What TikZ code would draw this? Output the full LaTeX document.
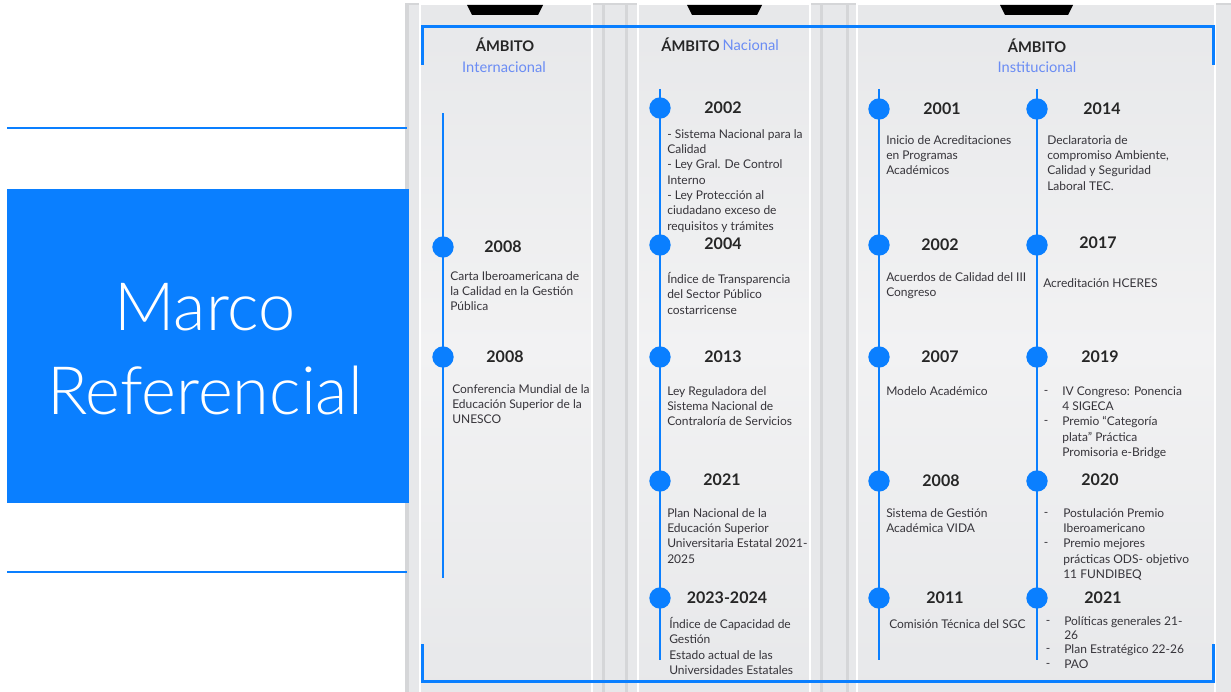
\documentclass[tikz,border=0pt]{standalone}
\usepackage{fontspec}
\setmainfont{Lato}
\newfontfamily\lightfont{Lato Light}

\definecolor{mainblue}{HTML}{0A7FFF}
\definecolor{softblue}{HTML}{6A8CF4}
\definecolor{txtgray}{HTML}{36343A}
\definecolor{bggray}{HTML}{E7E8EA}
\definecolor{gapgray}{HTML}{D5D6D8}
\definecolor{panelgray}{HTML}{F2F2F3}

\tikzset{
    tline/.style={mainblue, line width=1.5pt},
    dot/.style={circle, fill=mainblue, minimum size=16pt, inner sep=0pt},
    year/.style={font=\bfseries\fontsize{12}{14}\selectfont, text=black!85, inner sep=0pt},
    desc/.style={font=\fontsize{9}{11.5}\selectfont, text=txtgray, align=left, anchor=north west, inner sep=0pt},
    bullet/.style={font=\fontsize{9}{11.5}\selectfont, text=txtgray, inner sep=0pt, anchor=base},
    hdr/.style={font=\bfseries\fontsize{11}{13}\selectfont, text=black!85, inner sep=0pt},
    hdrblue/.style={font=\fontsize{11}{13}\selectfont, text=softblue, inner sep=0pt},
    frame/.style={mainblue, line width=2.25pt},
    panel/.style={top color=bggray, bottom color=bggray, middle color=panelgray, draw=white, line width=1.2pt}
}

\begin{document}
\begin{tikzpicture}[x=0.75pt, y=-0.75pt]
    \useasboundingbox (0,0) rectangle (1231,692);

    % Background
    \fill[bggray] (405,4) rectangle (1231,692);
    \fill[gapgray] (405,4) rectangle (409,692);
    \fill[gapgray] (602,4) rectangle (605,692);
    \fill[gapgray] (625,4) rectangle (628,692);
    \fill[gapgray] (820,4) rectangle (823,692);
    \fill[gapgray] (846,4) rectangle (849,692);
    \draw[gapgray, line width=0.8pt] (405,4) -- (1231,4);

    % Panels
    \shade[panel] (420,4) rectangle (592,694);
    \shade[panel] (638,4) rectangle (810,694);
    \shade[panel] (857,4) rectangle (1215,694);

    % Tabs
    \fill[black] (467,5) -- (543,5) -- (538,15) -- (472,15) -- cycle;
    \fill[black] (687,5) -- (762,5) -- (757,15) -- (692,15) -- cycle;
    \fill[black] (1000,5) -- (1073,5) -- (1068,15) -- (1005,15) -- cycle;

    % Title
    \draw[mainblue, line width=0.8pt] (7,128) -- (407,128);
    \draw[mainblue, line width=0.8pt] (7,572) -- (407,572);
    \fill[mainblue] (7,189) rectangle (409,503);
    \node[font=\lightfont\fontsize{50}{63}\selectfont, text=white, align=center, inner sep=0pt] (title) at (205,349) {Marco\\Referencial};

    % Frame
    \draw[frame] (422,65) -- (422,27) -- (1213,27) -- (1213,65);
    \draw[frame] (422,644) -- (422,681) -- (1213,681) -- (1213,644);

    % Headers
    \node[hdr] (hint) at (505,45) {ÁMBITO};
    \node[hdrblue] (hintb) at (504,67) {Internacional};
    \node[hdr, anchor=east] (hnac) at (720,45) {ÁMBITO};
    \node[hdrblue, anchor=west] (hnacb) at (hnac.east) {\,Nacional};
    \node[hdr] (hins) at (1037,46) {ÁMBITO};
    \node[hdrblue] (hinsb) at (1037,67) {Institucional};

    % Internacional
    \coordinate (inttop) at (443,113);
    \coordinate (intbot) at (443,578);
    \draw[tline] (inttop) -- (intbot);
    \node[dot] (i1) at (443,247) {};
    \node[year] (i1y) at (503,247) {2008};
    \node[desc] (i1d) at (450,271) {Carta Iberoamericana de\\la Calidad en la Gestión\\Pública};
    \node[dot] (i2) at (443,357) {};
    \node[year] (i2y) at (505,357) {2008};
    \node[desc] (i2d) at (452,384) {Conferencia Mundial de la\\Educación Superior de la\\UNESCO};

    % Nacional
    \coordinate (nactop) at (660,89);
    \coordinate (nacbot) at (660,660);
    \draw[tline] (nactop) -- (nacbot);
    \node[dot] (n1) at (660,108) {};
    \node[year] (n1y) at (723,108) {2002};
    \node[desc] (n1d) at (667,129) {- Sistema Nacional para la\\Calidad\\- Ley Gral. De Control\\Interno\\- Ley Protección al\\ciudadano exceso de\\requisitos y trámites};
    \node[dot] (n2) at (660,245) {};
    \node[year] (n2y) at (723,244) {2004};
    \node[desc] (n2d) at (667,272) {Índice de Transparencia\\del Sector Público\\costarricense};
    \node[dot] (n3) at (660,357) {};
    \node[year] (n3y) at (723,357) {2013};
    \node[desc] (n3d) at (667,386) {Ley Reguladora del\\Sistema Nacional de\\Contraloría de Servicios};
    \node[dot] (n4) at (660,481) {};
    \node[year] (n4y) at (722,480) {2021};
    \node[desc] (n4d) at (667,508) {Plan Nacional de la\\Educación Superior\\Universitaria Estatal 2021-\\2025};
    \node[dot] (n5) at (660,598) {};
    \node[year] (n5y) at (727,598) {2023-2024};
    \node[desc] (n5d) at (669,617) {Índice de Capacidad de\\Gestión\\Estado actual de las\\Universidades Estatales};

    % Institucional, left
    \coordinate (insatop) at (879,89);
    \coordinate (insabot) at (879,660);
    \draw[tline] (insatop) -- (insabot);
    \node[dot] (a1) at (879,109) {};
    \node[year] (a1y) at (942,109) {2001};
    \node[desc] (a1d) at (886,135) {Inicio de Acreditaciones\\en Programas\\Académicos};
    \node[dot] (a2) at (879,245) {};
    \node[year] (a2y) at (940,245) {2002};
    \node[desc] (a2d) at (886,272) {Acuerdos de Calidad del III\\Congreso};
    \node[dot] (a3) at (879,357) {};
    \node[year] (a3y) at (940,357) {2007};
    \node[desc] (a3d) at (886,386) {Modelo Académico};
    \node[dot] (a4) at (879,481) {};
    \node[year] (a4y) at (941,481) {2008};
    \node[desc] (a4d) at (886,508) {Sistema de Gestión\\Académica VIDA};
    \node[dot] (a5) at (879,598) {};
    \node[year] (a5y) at (945,598) {2011};
    \node[desc] (a5d) at (889,619) {Comisión Técnica del SGC};

    % Institucional, right
    \coordinate (insbtop) at (1037,89);
    \coordinate (insbbot) at (1037,660);
    \draw[tline] (insbtop) -- (insbbot);
    \node[dot] (b1) at (1037,109) {};
    \node[year] (b1y) at (1102,109) {2014};
    \node[desc] (b1d) at (1047,135) {Declaratoria de\\compromiso Ambiente,\\Calidad y Seguridad\\Laboral TEC.};
    \node[dot] (b2) at (1037,245) {};
    \node[year] (b2y) at (1098,243) {2017};
    \node[desc] (b2d) at (1043,278) {Acreditación HCERES};
    \node[dot] (b3) at (1037,357) {};
    \node[year] (b3y) at (1100,357) {2019};
    \node[desc] (b3d) at (1062,386) {IV Congreso: Ponencia\\4 SIGECA\\Premio “Categoría\\plata” Práctica\\Promisoria e-Bridge};
    \node[bullet] (b3m1) at (1046,394) {-};
    \node[bullet] (b3m2) at (1046,424) {-};
    \node[dot] (b4) at (1037,481) {};
    \node[year] (b4y) at (1100,480) {2020};
    \node[desc] (b4d) at (1063,508) {Postulación Premio\\Iberoamericano\\Premio mejores\\prácticas ODS- objetivo\\11 FUNDIBEQ};
    \node[bullet] (b4m1) at (1046,516) {-};
    \node[bullet] (b4m2) at (1046,546) {-};
    \node[dot] (b5) at (1037,598) {};
    \node[year] (b5y) at (1103,598) {2021};
    \node[desc, font=\fontsize{9}{10.8}\selectfont] (b5d) at (1064,616) {Políticas generales 21-\\26\\Plan Estratégico 22-26\\PAO};
    \node[bullet] (b5m1) at (1048,624) {-};
    \node[bullet] (b5m2) at (1048,652) {-};
    \node[bullet] (b5m3) at (1048,667) {-};
\end{tikzpicture}
\end{document}
